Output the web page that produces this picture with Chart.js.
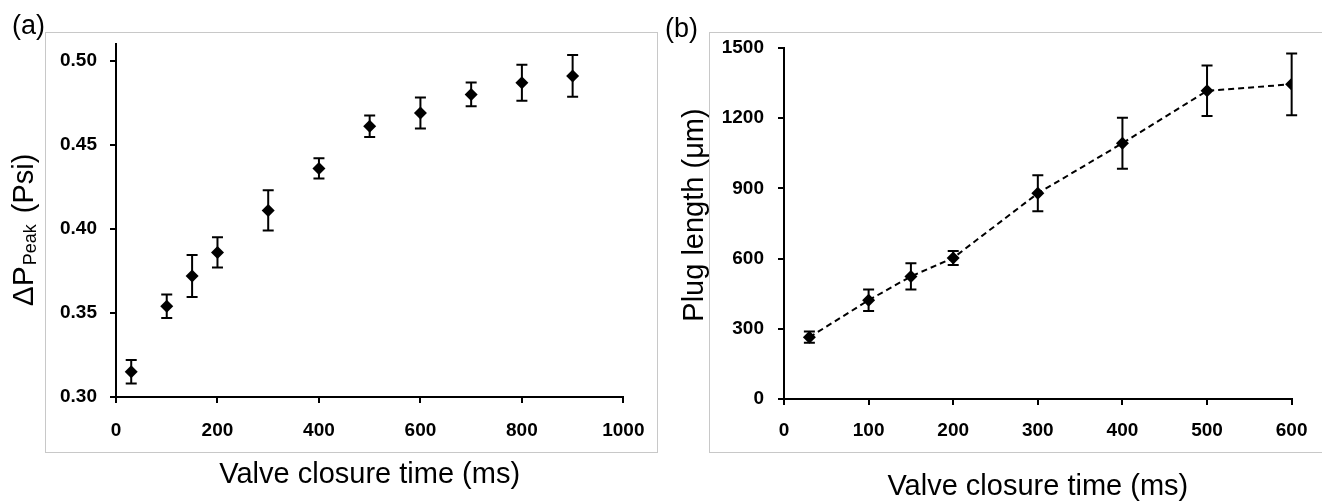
<!DOCTYPE html>
<html>
<head>
<meta charset="utf-8">
<script src="https://cdn.jsdelivr.net/npm/chart.js@4.4.1/dist/chart.umd.min.js"></script>
<style>
  html, body { margin: 0; padding: 0; background: #fff; }
  #wrap { position: relative; width: 1322px; height: 502px; overflow: hidden; }
  canvas { position: absolute; top: 0; }
  #chartA { left: 0; }
  #chartB { left: 661px; }
</style>
</head>
<body>
<div id="wrap">
  <canvas id="chartA" width="661" height="502"></canvas>
  <canvas id="chartB" width="661" height="502"></canvas>
</div>
<script>
// (a) peak pressure vs valve closure time
const timeA = [30, 100, 150, 200, 300, 400, 500, 600, 700, 800, 900];
const peakA = [0.315, 0.354, 0.372, 0.386, 0.411, 0.436, 0.461, 0.469, 0.480, 0.487, 0.491];
const peakErrA = [0.007, 0.007, 0.0125, 0.009, 0.012, 0.006, 0.0064, 0.0092, 0.0071, 0.0107, 0.0124];
const xTicksA = [0, 200, 400, 600, 800, 1000];
const yTicksA = [0.30, 0.35, 0.40, 0.45, 0.50];

// (b) plug length vs valve closure time
const timeB = [30, 100, 150, 200, 300, 400, 500, 600];
const plugB = [264, 422, 524, 603, 879, 1093, 1317, 1345];
const plugErrB = [24, 46, 56, 30, 77, 109, 108, 132];
const xTicksB = [0, 100, 200, 300, 400, 500, 600];
const yTicksB = [0, 300, 600, 900, 1200, 1500];

const FONT = "'Liberation Sans', Arial, Helvetica, sans-serif";

// error bars, drawn under the markers
function errorBars(errs) {
  return {
    id: 'errorBars',
    beforeDatasetsDraw(chart) {
      const { ctx, scales: { x, y } } = chart;
      ctx.save();
      ctx.strokeStyle = '#000';
      ctx.lineWidth = 2;
      chart.data.datasets[0].data.forEach((p, i) => {
        const px = x.getPixelForValue(p.x);
        const top = y.getPixelForValue(p.y + errs[i]);
        const bot = y.getPixelForValue(p.y - errs[i]);
        ctx.beginPath();
        ctx.moveTo(px, top); ctx.lineTo(px, bot);
        ctx.moveTo(px - 5.5, top); ctx.lineTo(px + 5.5, top);
        ctx.moveTo(px - 5.5, bot); ctx.lineTo(px + 5.5, bot);
        ctx.stroke();
      });
      ctx.restore();
    }
  };
}

// light grey frame + panel letter
function frame(box, label, lx, ly) {
  return {
    id: 'frame',
    beforeDraw(chart) {
      const ctx = chart.ctx;
      ctx.save();
      ctx.strokeStyle = '#c8c8c8';
      ctx.lineWidth = 1;
      ctx.strokeRect(box[0] + 0.5, box[1] + 0.5, box[2], box[3]);
      ctx.font = '27px ' + FONT;
      const w = ctx.measureText(label).width;
      ctx.fillStyle = '#fff';
      ctx.fillRect(lx - 1, ly - 22, w + 1, 30);
      ctx.fillStyle = '#000';
      ctx.textBaseline = 'alphabetic';
      ctx.fillText(label, lx, ly);
      ctx.restore();
    }
  };
}

// rotated y title, parts = [text, size, baseline shift, extra gap after]
function yTitle(x0, y0, parts) {
  return {
    id: 'yTitle',
    afterDraw(chart) {
      const ctx = chart.ctx;
      ctx.save();
      ctx.translate(x0, y0);
      ctx.rotate(-Math.PI / 2);
      ctx.fillStyle = '#000';
      ctx.textBaseline = 'alphabetic';
      ctx.textAlign = 'left';
      let total = 0;
      const widths = parts.map(p => {
        ctx.font = p[1] + 'px ' + FONT;
        const w = ctx.measureText(p[0]).width + (p[3] || 0);
        total += w;
        return w;
      });
      let cx = -total / 2;
      parts.forEach((p, i) => {
        ctx.font = p[1] + 'px ' + FONT;
        ctx.fillText(p[0], cx, p[2]);
        cx += widths[i];
      });
      ctx.restore();
    }
  };
}

function axis(min, max, tickList, fmt, pad, extra) {
  return Object.assign({
    type: 'linear',
    min: min,
    max: max,
    afterBuildTicks: s => { s.ticks = tickList.map(v => ({ value: v })); },
    border: { display: true, color: '#000', width: 2 },
    grid: { display: true, drawOnChartArea: false, drawTicks: true, tickLength: 6, color: '#000', lineWidth: 2 },
    ticks: {
      color: '#000',
      padding: pad,
      autoSkip: false,
      maxRotation: 0,
      font: { family: FONT, size: 19, weight: 'bold' },
      callback: fmt
    }
  }, extra);
}

function xTitle(pb) {
  return {
    display: true,
    text: 'Valve closure time (ms)',
    color: '#000',
    font: { family: FONT, size: 29, lineHeight: 1 },
    padding: { top: 0, bottom: pb }
  };
}

const pointStyle = {
  pointStyle: 'rectRot',
  pointRadius: 6.5,
  pointHoverRadius: 6.5,
  pointBackgroundColor: '#000',
  pointBorderWidth: 0,
  borderColor: '#000'
};

new Chart(document.getElementById('chartA'), {
  type: 'scatter',
  data: {
    datasets: [Object.assign({
      data: timeA.map((t, i) => ({ x: t, y: peakA[i] })),
      showLine: false
    }, pointStyle)]
  },
  options: {
    responsive: false,
    animation: false,
    devicePixelRatio: 1,
    layout: { padding: { top: 44, right: 36.3, bottom: 0, left: 0 } },
    scales: {
      x: axis(0, 1000, xTicksA, v => String(v), 16.5, {
        afterFit: s => { s.height = 105; },
        title: xTitle(12.5)
      }),
      y: axis(0.30, 0.51, yTicksA, v => v.toFixed(2), 13, {
        afterFit: s => { s.width = 116; }
      })
    },
    plugins: { legend: { display: false }, tooltip: { enabled: false } }
  },
  plugins: [
    frame([45, 32, 612, 420], '(a)', 12, 34),
    errorBars(peakErrA),
    yTitle(33.3, 230, [['ΔP', 30, 0, 1], ['Peak', 18, 3, 3], [' (Psi)', 29, 0]])
  ]
});

new Chart(document.getElementById('chartB'), {
  type: 'scatter',
  data: {
    datasets: [Object.assign({
      data: timeB.map((t, i) => ({ x: t, y: plugB[i] })),
      showLine: true,
      borderWidth: 2,
      borderDash: [6, 4],
      tension: 0
    }, pointStyle)]
  },
  options: {
    responsive: false,
    animation: false,
    devicePixelRatio: 1,
    layout: { padding: { top: 48, right: 21, bottom: 0, left: 0 } },
    scales: {
      x: axis(0, 600, xTicksB, v => String(v), 14.5, {
        afterFit: s => { s.height = 103; },
        title: xTitle(1)
      }),
      y: axis(0, 1500, yTicksB, v => String(v), 14, {
        afterFit: s => { s.width = 123; }
      })
    },
    plugins: { legend: { display: false }, tooltip: { enabled: false } }
  },
  plugins: [
    frame([48, 32, 700, 420], '(b)', 4, 37),
    errorBars(plugErrB),
    yTitle(42.3, 215, [['Plug length (μm)', 29, 0]])
  ]
});
</script>
</body>
</html>
